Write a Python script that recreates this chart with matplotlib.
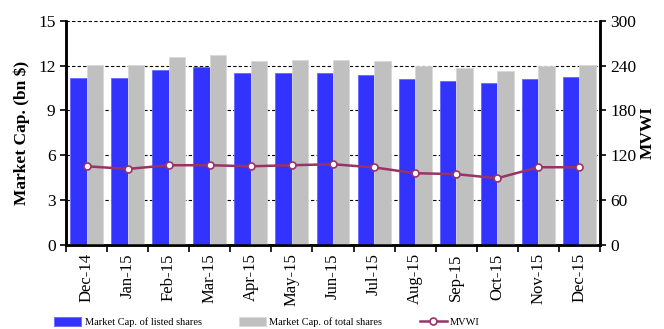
import numpy as np
import matplotlib
matplotlib.use('Agg')
import matplotlib.pyplot as plt

plt.rcParams['font.family'] = ['Liberation Serif', 'DejaVu Serif']

months = ['Dec-14', 'Jan-15', 'Feb-15', 'Mar-15', 'Apr-15', 'May-15', 'Jun-15',
          'Jul-15', 'Aug-15', 'Sep-15', 'Oct-15', 'Nov-15', 'Dec-15']
listed = [11.18, 11.18, 11.72, 11.9, 11.5, 11.5, 11.52, 11.35, 11.12, 10.97, 10.81, 11.12, 11.21]
total = [12.02, 12.02, 12.55, 12.73, 12.33, 12.35, 12.37, 12.28, 11.97, 11.82, 11.66, 11.97, 12.02]
mvwi = [105.3, 101.7, 106.7, 106.7, 105.3, 106.7, 108.0, 103.8, 96.0, 94.8, 89.3, 104.0, 104.0]

fig = plt.figure(figsize=(6.64, 3.29), dpi=100)
ax = fig.add_axes([66 / 664, 1 - 245 / 329, (600 - 66) / 664, (245 - 20.7) / 329])
ax2 = ax.twinx()

x = np.arange(len(months))
w = 0.4
ax.bar(x - w / 2, listed, w, color='#3333FF', edgecolor='#6666FF', linewidth=0.6,
       label='Market Cap. of listed shares', zorder=3)
ax.bar(x + w / 2, total, w, color='#C0C0C0', edgecolor='#D8D8D8', linewidth=0.6,
       label='Market Cap. of total shares', zorder=3)

ax2.plot(x, mvwi, color='#993366', linewidth=1.8, marker='o', markersize=5,
         markerfacecolor='white', markeredgecolor='#993366', markeredgewidth=1.2,
         label='MVWI', zorder=4)

ax.set_xlim(-0.5, len(months) - 0.5)
ax.set_ylim(0, 15)
ax.set_yticks([0, 3, 6, 9, 12, 15])
ax2.set_ylim(0, 300)
ax2.set_yticks([0, 60, 120, 180, 240, 300])

ax.set_xticks(x)
ax.set_xticklabels(months, rotation=90, fontsize=12)
ax.set_xticks(np.arange(-0.5, len(months)), minor=True)
ax.tick_params(axis='x', which='major', length=0, pad=6)
ax.tick_params(axis='x', which='minor', length=5, width=1.2, direction='out')
ax.tick_params(axis='y', labelsize=12.5, length=4, width=1.2, direction='out')
ax2.tick_params(axis='y', labelsize=12.5, length=4, width=1.2, direction='out')

ax.yaxis.grid(True, linestyle=(0, (3, 2)), color='black', linewidth=0.8, zorder=0)
ax.set_axisbelow(True)

for a in (ax, ax2):
    a.spines['top'].set_visible(False)
    a.spines['left'].set_linewidth(1.8)
    a.spines['right'].set_linewidth(1.8)
    a.spines['bottom'].set_linewidth(1.8)

ax.set_ylabel('Market Cap. (bn $)', fontsize=12.5, fontweight='bold', labelpad=6)
ax2.set_ylabel('MVWI', fontsize=12.5, fontweight='bold', labelpad=2)

h1, l1 = ax.get_legend_handles_labels()
h2, l2 = ax2.get_legend_handles_labels()
fig.legend(h1 + h2, l1 + l2, loc='center', bbox_to_anchor=(267 / 664, 1 - 322 / 329),
           ncol=3, frameon=False, fontsize=7.5, handlelength=2.6, handleheight=1.0,
           handletextpad=0.3, columnspacing=3.6)

fig.savefig('out.png', dpi=100)
